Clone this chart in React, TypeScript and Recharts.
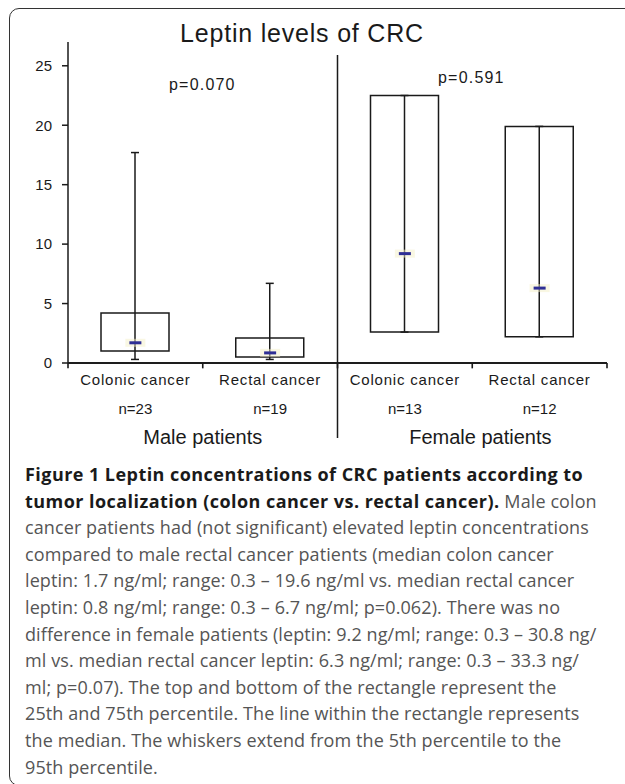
import React from 'react';
import {
  ComposedChart,
  Bar,
  Scatter,
  XAxis,
  YAxis,
  ReferenceLine,
  ReferenceArea,
  CartesianGrid,
} from 'recharts';

// values (ng/ml)
const categories = ['Colonic cancer', 'Rectal cancer', 'Colonic cancer', 'Rectal cancer'];
const counts = ['n=23', 'n=19', 'n=13', 'n=12'];
const q1 = [1.0, 0.5, 2.6, 2.2];
const q3 = [4.2, 2.1, 22.5, 19.9];
const medians = [1.7, 0.85, 9.2, 6.3];
const whiskerLow = [0.3, 0.3, 2.6, 2.2];
const whiskerHigh = [17.7, 6.7, 22.5, 19.9];
const groups = ['Male patients', 'Female patients'];
const groupTicks = [1, 3.06];
const yTicks = [0, 5, 10, 15, 20, 25];
const pValues = ['p=0.070', 'p=0.591'];

const data = categories.map((c, i) => ({
  id: `c${i}`,
  pos: i + 0.5,
  box: [q1[i], q3[i]],
  whisker: [whiskerLow[i], whiskerHigh[i]],
  median: medians[i],
}));

// bottom axis: boundary ticks, category centres and group label positions
const boundaries = [0, 1, 2, 3, 4];
const centres = categories.map((c, i) => i + 0.5);
const bottomTicks = Array.from(new Set([...centres, ...groupTicks])).sort((a, b) => a - b);

const INK = '#1a1a1a';

const WhiskerShape = (props: any) => {
  const { x, y, width, height } = props;
  const cx = x + width / 2;
  return (
    <g stroke={INK} strokeWidth={1.5}>
      <line x1={cx} y1={y} x2={cx} y2={y + height} />
      <line x1={x} y1={y} x2={x + width} y2={y} />
      <line x1={x} y1={y + height} x2={x + width} y2={y + height} />
    </g>
  );
};

const MedianShape = (props: any) => {
  const { cx, cy } = props;
  return (
    <g>
      <rect x={cx - 10} y={cy - 4} width={20} height={8} fill="#f4f0c8" opacity={0.5} />
      <rect x={cx - 6} y={cy - 1.5} width={12} height={3} fill="#2f2f95" />
    </g>
  );
};

const BottomTick = (props: any) => {
  const { x, y, payload } = props;
  const v: number = payload.value;
  const ci = centres.indexOf(v);
  const gi = groupTicks.indexOf(v);
  return (
    <g>
      {ci >= 0 && (
        <>
          <text x={x} y={y + 22} textAnchor="middle" fontSize={15} fill={INK} letterSpacing={0.8}>
            {categories[ci]}
          </text>
          <text x={x} y={y + 51} textAnchor="middle" fontSize={15} fill={INK}>
            {counts[ci]}
          </text>
        </>
      )}
      {gi >= 0 && (
        <text x={x} y={y + 81} textAnchor="middle" fontSize={20} fill={INK}>
          {groups[gi]}
        </text>
      )}
    </g>
  );
};

const captionLines = [
  'cancer patients had (not significant) elevated leptin concentrations',
  'compared to male rectal cancer patients (median colon cancer',
  'leptin: 1.7 ng/ml; range: 0.3 \u2013 19.6 ng/ml vs. median rectal cancer',
  'leptin: 0.8 ng/ml; range: 0.3 \u2013 6.7 ng/ml; p=0.062). There was no',
  'difference in female patients (leptin: 9.2 ng/ml; range: 0.3 \u2013 30.8 ng/',
  'ml vs. median rectal cancer leptin: 6.3 ng/ml; range: 0.3 \u2013 33.3 ng/',
  'ml; p=0.07). The top and bottom of the rectangle represent the',
  '25th and 75th percentile. The line within the rectangle represents',
  'the median. The whiskers extend from the 5th percentile to the',
  '95th percentile.',
];

export default function App() {
  return (
    <div
      style={{
        position: 'absolute',
        left: 0,
        top: 0,
        width: 625,
        height: 784,
        overflow: 'hidden',
        background: '#fff',
        fontFamily: '"Liberation Sans", Arial, sans-serif',
      }}
    >
      <div
        style={{
          position: 'absolute',
          left: 9,
          top: 8,
          width: 660,
          height: 778,
          border: '1.5px solid #333',
          borderRadius: 10,
          boxSizing: 'border-box',
        }}
      />

      <div style={{ position: 'absolute', left: 0, top: 0 }}>
        <ComposedChart
          width={625}
          height={454}
          data={data}
          margin={{ top: 42, right: 18, left: 0, bottom: 0 }}
        >
          <CartesianGrid
            xAxisId="base"
            vertical={false}
            horizontalValues={[0]}
            stroke={INK}
            strokeWidth={1.5}
          />
          <YAxis
            domain={[0, 27]}
            ticks={yTicks}
            width={68}
            tickSize={6}
            tickMargin={10}
            axisLine={{ stroke: INK, strokeWidth: 1.5 }}
            tickLine={{ stroke: INK, strokeWidth: 1.5 }}
            tick={{ fontSize: 15, fill: INK }}
          />
          <XAxis
            xAxisId="base"
            dataKey="pos"
            type="number"
            domain={[0, 4]}
            allowDataOverflow
            ticks={bottomTicks}
            interval={0}
            height={91}
            tickSize={0}
            tickMargin={0}
            tickLine={false}
            axisLine={{ stroke: INK, strokeWidth: 1.5 }}
            tick={<BottomTick />}
          />
          <XAxis xAxisId="cat" dataKey="id" hide />
          <XAxis xAxisId="w" dataKey="id" hide />
          <XAxis xAxisId="m" dataKey="id" hide />
          <Bar
            xAxisId="w"
            dataKey="whisker"
            barSize={8}
            shape={<WhiskerShape />}
            isAnimationActive={false}
          />
          <Bar
            xAxisId="cat"
            dataKey="box"
            barSize={68}
            fill="none"
            stroke={INK}
            strokeWidth={1.5}
            isAnimationActive={false}
          />
          <Scatter
            xAxisId="m"
            dataKey="median"
            shape={<MedianShape />}
            isAnimationActive={false}
          />
          {/* baseline at 0 as a thin band, plus boundary ticks below it */}
          <ReferenceArea
            xAxisId="base"
            x1={0}
            x2={4}
            y1={-0.07}
            y2={0.07}
            ifOverflow="visible"
            fill={INK}
            fillOpacity={1}
            stroke="none"
          />
          {boundaries.map((b) => (
            <ReferenceArea
              key={b}
              xAxisId="base"
              x1={b - 0.006}
              x2={b + 0.006}
              y1={-0.45}
              y2={0}
              ifOverflow="visible"
              fill={INK}
              fillOpacity={1}
              stroke="none"
            />
          ))}
          <ReferenceLine
            xAxisId="base"
            segment={[{ x: 2, y: 25.9 }, { x: 2, y: -6.3 }]}
            ifOverflow="visible"
            stroke={INK}
            strokeWidth={1.5}
          />
        </ComposedChart>
      </div>

      <div
        style={{
          position: 'absolute',
          left: 0,
          width: 604,
          top: 19,
          textAlign: 'center',
          fontSize: 25,
          color: INK,
          letterSpacing: 0.8,
        }}
      >
        Leptin levels of CRC
      </div>
      <div style={{ position: 'absolute', left: 169, top: 76, fontSize: 16, color: INK, letterSpacing: 1.2 }}>
        {pValues[0]}
      </div>
      <div style={{ position: 'absolute', left: 438, top: 69, fontSize: 16, color: INK, letterSpacing: 1.2 }}>
        {pValues[1]}
      </div>

      <div
        style={{
          position: 'absolute',
          left: 25,
          top: 461,
          fontFamily: '"Open Sans", sans-serif',
          fontSize: 18,
          lineHeight: '26.6px',
          whiteSpace: 'nowrap',
          color: '#555',
          letterSpacing: 0.1,
        }}
      >
        <div style={{ fontWeight: 700, color: '#1a1a1a', letterSpacing: 0.45 }}>
          Figure 1 Leptin concentrations of CRC patients according to
        </div>
        <div>
          <span style={{ fontWeight: 700, color: '#1a1a1a', letterSpacing: 0.45 }}>
            tumor localization (colon cancer vs. rectal cancer).
          </span>{' '}
          Male colon
        </div>
        {captionLines.map((l, i) => (
          <div key={i}>{l}</div>
        ))}
      </div>
    </div>
  );
}
